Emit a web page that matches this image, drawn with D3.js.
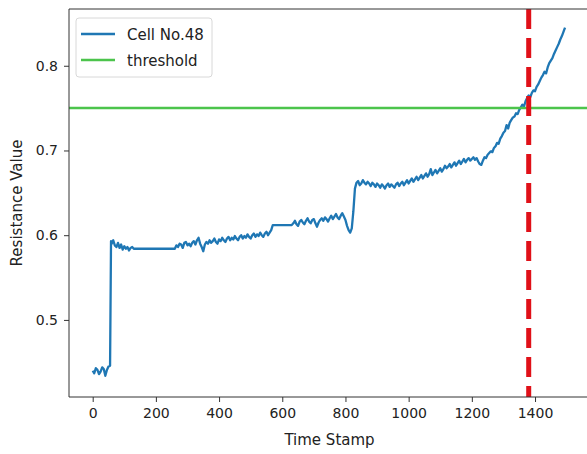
<!DOCTYPE html>
<html>
<head>
<meta charset="utf-8">
<script src="https://cdn.jsdelivr.net/npm/d3@7/dist/d3.min.js"></script>
<style>
  html, body { margin: 0; padding: 0; background: #fff; }
  svg { display: block; }
  text { font-family: "DejaVu Sans", sans-serif; fill: #222; }
</style>
</head>
<body>
<svg id="chart" width="587" height="454"></svg>
<script>
// Resistance readings of cell No.48, sampled by time stamp
const timeStamp = [
  0, 5, 10, 15, 20, 25, 30, 35, 40, 45, 50, 55, 58,
  60, 65, 70, 75, 80, 85, 90, 95, 100, 105, 110, 115, 120, 125, 130, 260,
  265, 270, 275, 280, 285, 290, 295, 300, 305, 310, 315, 320, 325, 330, 335, 340,
  345, 350, 355, 360, 365, 370, 375, 380, 385, 390, 395, 400, 405, 410, 415, 420,
  425, 430, 435, 440, 445, 450, 455, 460, 465, 470, 475, 480, 485, 490, 495, 500,
  505, 510, 515, 520, 525, 530, 535, 540, 545, 550, 555, 560, 565, 570, 630,
  635, 640, 645, 650, 655, 660, 665, 670, 675, 680, 685, 690, 695, 700, 705, 710,
  715, 720, 725, 730, 735, 740, 745, 750, 755, 760, 765, 770, 775, 780, 785, 790,
  795, 800, 805, 810, 815, 820, 825, 830, 835,
  840, 845, 850, 855, 860, 865, 870, 875, 880, 885, 890, 895, 900, 905, 910, 915,
  920, 925, 930, 935, 940, 945, 950, 955, 960, 965, 970, 975, 980, 985, 990, 995, 1000,
  1005, 1010, 1015, 1020, 1025, 1030, 1035, 1040, 1045, 1050, 1055, 1060, 1065, 1070,
  1075, 1080, 1085, 1090, 1095, 1100, 1105, 1110, 1115, 1120, 1125, 1130, 1135, 1140,
  1145, 1150, 1155, 1160, 1165, 1170, 1175, 1180, 1185, 1190, 1195, 1200, 1205, 1210,
  1215, 1220, 1225, 1230, 1235, 1240, 1245, 1250,
  1255, 1260, 1265, 1270, 1275, 1280, 1285, 1290, 1295, 1300, 1305, 1310, 1315, 1320,
  1325, 1330, 1335, 1340, 1345, 1350, 1355, 1360, 1365, 1370, 1375, 1380, 1385, 1390,
  1395, 1400, 1405, 1410, 1415, 1420, 1425, 1430, 1435, 1440, 1445, 1450, 1455, 1460,
  1465, 1470, 1475, 1480, 1485, 1490, 1495
];
const resistance = [
  0.440, 0.437, 0.443, 0.441, 0.436, 0.439, 0.444, 0.442, 0.434, 0.441, 0.445, 0.446, 0.593,
  0.590, 0.594, 0.588, 0.586, 0.591, 0.585, 0.589, 0.583, 0.587, 0.584, 0.586, 0.582, 0.585, 0.586, 0.584, 0.584,
  0.588, 0.586, 0.590, 0.589, 0.585, 0.591, 0.592, 0.588, 0.590, 0.587, 0.591, 0.593, 0.589, 0.594, 0.597, 0.590,
  0.586, 0.581, 0.589, 0.592, 0.590, 0.594, 0.591, 0.593, 0.596, 0.592, 0.590, 0.595, 0.593, 0.597, 0.594, 0.592,
  0.596, 0.598, 0.594, 0.597, 0.595, 0.599, 0.596, 0.594, 0.598, 0.600, 0.596, 0.599, 0.597, 0.601, 0.598, 0.596,
  0.600, 0.602, 0.598, 0.601, 0.599, 0.603, 0.600, 0.598, 0.602, 0.604, 0.600, 0.603, 0.606, 0.612, 0.612,
  0.614, 0.617, 0.613, 0.611, 0.616, 0.618, 0.615, 0.613, 0.617, 0.620, 0.616, 0.614, 0.618, 0.619, 0.614, 0.610,
  0.615, 0.618, 0.620, 0.617, 0.621, 0.619, 0.616, 0.620, 0.623, 0.619, 0.622, 0.625, 0.621, 0.619, 0.623, 0.626,
  0.622, 0.618, 0.611, 0.606, 0.603, 0.608, 0.628, 0.655, 0.662,
  0.664, 0.659, 0.661, 0.665, 0.662, 0.660, 0.663, 0.661, 0.658, 0.662, 0.660, 0.657, 0.661, 0.659, 0.656, 0.660,
  0.658, 0.655, 0.659, 0.661, 0.657, 0.660, 0.658, 0.656, 0.660, 0.662, 0.658, 0.661, 0.663, 0.659, 0.662, 0.665, 0.661,
  0.664, 0.667, 0.663, 0.666, 0.669, 0.665, 0.668, 0.671, 0.667, 0.670, 0.673, 0.669, 0.672, 0.678,
  0.671, 0.674, 0.677, 0.673, 0.676, 0.679, 0.675, 0.678, 0.682, 0.679, 0.681, 0.684, 0.680, 0.683,
  0.686, 0.682, 0.685, 0.688, 0.684, 0.687, 0.690, 0.686, 0.689, 0.691, 0.688, 0.690, 0.692, 0.689,
  0.691, 0.687, 0.684, 0.683, 0.688, 0.692, 0.691, 0.695,
  0.697, 0.699, 0.698, 0.703, 0.705, 0.709, 0.708, 0.714, 0.717, 0.721, 0.723, 0.730, 0.726, 0.733,
  0.736, 0.739, 0.740, 0.744, 0.743, 0.748, 0.751, 0.754, 0.752, 0.758, 0.762, 0.765, 0.763, 0.768,
  0.771, 0.770, 0.775, 0.778, 0.782, 0.786, 0.789, 0.793, 0.791, 0.798, 0.803, 0.806, 0.809, 0.814,
  0.818, 0.822, 0.826, 0.831, 0.835, 0.840, 0.845
];
const threshold = 0.75;
const crossingTime = 1380;
const xTicks = [0, 200, 400, 600, 800, 1000, 1200, 1400];
const yTicks = [0.5, 0.6, 0.7, 0.8];
const seriesLabels = ["Cell No.48", "threshold"];

const series = timeStamp.map((t, i) => ({ t, v: resistance[i] }));

const svg = d3.select("#chart");
const plot = { left: 69, top: 9, right: 590, bottom: 397 };

const x = d3.scaleLinear().domain([-75, 1574]).range([plot.left, plot.right]);
const y = d3.scaleLinear().domain([0.409, 0.867]).range([plot.bottom, plot.top]);

svg.append("defs").append("clipPath").attr("id", "plot-clip")
  .append("rect")
  .attr("x", plot.left).attr("y", plot.top)
  .attr("width", plot.right - plot.left).attr("height", plot.bottom - plot.top);

const g = svg.append("g").attr("clip-path", "url(#plot-clip)");

// resistance trace
g.append("path")
  .datum(series)
  .attr("fill", "none")
  .attr("stroke", "#1f77b4")
  .attr("stroke-width", 2.3)
  .attr("stroke-linejoin", "round")
  .attr("d", d3.line().x(d => x(d.t)).y(d => y(d.v)));

// threshold level
g.append("line")
  .attr("x1", plot.left).attr("x2", plot.right)
  .attr("y1", y(threshold)).attr("y2", y(threshold))
  .attr("stroke", "#4cc44c").attr("stroke-width", 2.5);

// time at which the threshold is crossed
g.append("line")
  .attr("x1", x(crossingTime)).attr("x2", x(crossingTime))
  .attr("y1", plot.top).attr("y2", plot.bottom)
  .attr("stroke", "#e01018").attr("stroke-width", 5)
  .attr("stroke-dasharray", "20,9");

// axes
const xAxis = d3.axisBottom(x).tickValues(xTicks).tickSize(5).tickPadding(6).tickFormat(d3.format("d"));
const yAxis = d3.axisLeft(y).tickValues(yTicks).tickSize(5).tickPadding(6).tickFormat(d3.format(".1f"));

const gx = svg.append("g").attr("transform", `translate(0,${plot.bottom})`).call(xAxis);
const gy = svg.append("g").attr("transform", `translate(${plot.left},0)`).call(yAxis);
[gx, gy].forEach(a => {
  a.select(".domain").remove();
  a.selectAll(".tick line").attr("stroke", "#333");
  a.selectAll(".tick text").attr("font-size", 14).attr("fill", "#222")
    .attr("font-family", "DejaVu Sans, sans-serif");
});

// spines
svg.append("line").attr("x1", plot.left).attr("x2", plot.left)
  .attr("y1", plot.top).attr("y2", plot.bottom).attr("stroke", "#333");
svg.append("line").attr("x1", plot.left).attr("x2", plot.right)
  .attr("y1", plot.bottom).attr("y2", plot.bottom).attr("stroke", "#333");
svg.append("line").attr("x1", plot.left).attr("x2", plot.right)
  .attr("y1", plot.top).attr("y2", plot.top).attr("stroke", "#333");

// axis titles
svg.append("text")
  .attr("x", (plot.left + plot.right) / 2).attr("y", 445)
  .attr("text-anchor", "middle").attr("font-size", 15)
  .text("Time Stamp");
svg.append("text")
  .attr("transform", `translate(22,${(plot.top + plot.bottom) / 2}) rotate(-90)`)
  .attr("text-anchor", "middle").attr("font-size", 15)
  .text("Resistance Value");

// legend
const legend = svg.append("g");
legend.append("rect")
  .attr("x", 76).attr("y", 18).attr("width", 136).attr("height", 59).attr("rx", 3)
  .attr("fill", "#fff").attr("fill-opacity", 0.8).attr("stroke", "#d8d8d8");
const legendColors = ["#1f77b4", "#4cc44c"];
seriesLabels.forEach((label, i) => {
  const ly = 34 + i * 26;
  legend.append("line").attr("x1", 81).attr("x2", 115).attr("y1", ly).attr("y2", ly)
    .attr("stroke", legendColors[i]).attr("stroke-width", 2.5);
  legend.append("text").attr("x", 127).attr("y", ly + 5.5).attr("font-size", 15).text(label);
});
</script>
</body>
</html>
